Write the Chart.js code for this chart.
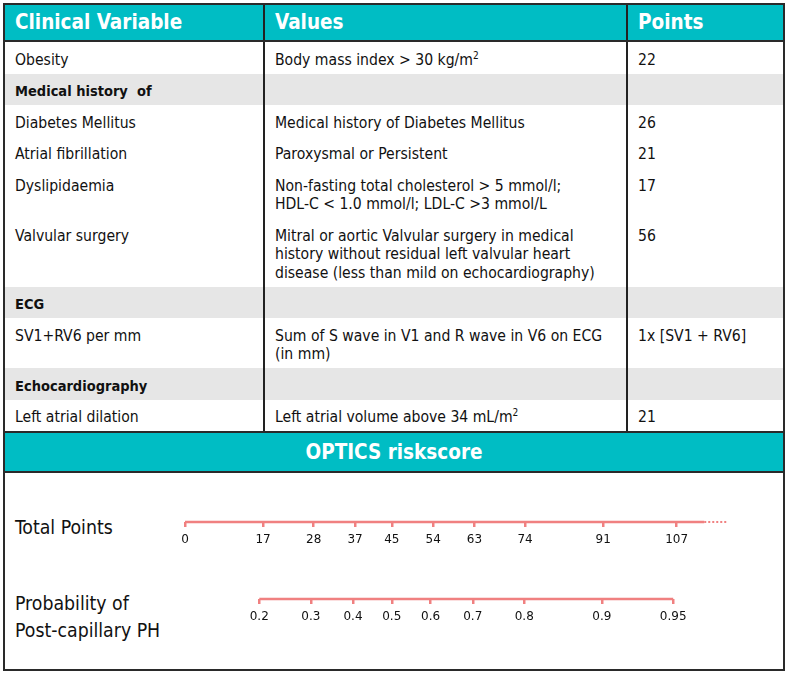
<!DOCTYPE html>
<html>
<head>
<meta charset="utf-8">
<script src="https://cdn.jsdelivr.net/npm/chart.js@4.4.1/dist/chart.umd.min.js"></script>
<style>
  html, body { margin: 0; padding: 0; background: #fff; }
  body { width: 787px; height: 674px; position: relative; overflow: hidden;
         font-family: "DejaVu Sans Condensed", "Open Sans", sans-serif; color: #111; }
  .abs { position: absolute; }
  .teal { background: #00BDC4; }
  .hdr { position: absolute; top: 4px; height: 37px; line-height: 37px; color: #fff;
         font-weight: bold; font-size: 20.5px; }
  #rows { position: absolute; left: 4px; top: 42px; width: 780px; }
  .row { display: flex; width: 780px; font-size: 15.6px; line-height: 18.5px; }
  .row.sec { background: #E6E6E6; }
  .row.sec .c1 { font-weight: bold; font-size: 14.5px; }
  .cell { box-sizing: border-box; padding: 8.5px 0 4.5px 11px; white-space: pre; }
  .c1 { width: 260px; } .c2 { width: 363px; } .c3 { width: 157px; }
  sup { font-size: 10px; line-height: 0; vertical-align: 6px; }
  .vline { position: absolute; width: 2px; background: #222; }
  .hline { position: absolute; height: 2px; background: #2a2a2a; left: 3px; width: 782px; }
  .side { position: absolute; left: 15px; font-size: 19.3px; line-height: 27px; color: #111; }
  #nomo { position: absolute; left: 0; top: 473px; }
</style>
</head>
<body>
<!-- teal header and teal title bar -->
<div class="abs teal" style="left:4px;top:4px;width:780px;height:37px;"></div>
<div class="abs teal" style="left:4px;top:433px;width:780px;height:39px;"></div>

<div id="rows"></div>

<div class="hdr" id="h1" style="left:15px;"></div>
<div class="hdr" id="h2" style="left:275px;"></div>
<div class="hdr" id="h3" style="left:638px;"></div>
<div class="hdr" id="title" style="left:4px;width:780px;top:433px;height:39px;line-height:39px;text-align:center;"></div>

<!-- rules -->
<div class="vline" style="left:263px;top:4px;height:429px;"></div>
<div class="vline" style="left:626px;top:4px;height:429px;"></div>
<div class="hline" style="top:40px;"></div>
<div class="hline" style="top:431px;"></div>
<div class="hline" style="top:471px;"></div>
<div class="abs" style="left:3px;top:3px;width:778px;height:664px;border:2px solid #2a2a2a;"></div>

<div class="side" id="lblPts" style="top:513.5px;"></div>
<div class="side" id="lblProb" style="top:589.5px;"></div>

<canvas id="nomo" width="787" height="195"></canvas>

<script>
// ---------------- table data ----------------
const headers = ["Clinical Variable", "Values", "Points"];
const clinicalVariables = ["Obesity", "Medical history  of", "Diabetes Mellitus", "Atrial fibrillation",
  "Dyslipidaemia", "Valvular surgery", "ECG", "SV1+RV6 per mm", "Echocardiography", "Left atrial dilation"];
const sectionRows = [false, true, false, false, false, false, true, false, true, false];
const variableValues = [
  ["Body mass index > 30 kg/m^2"],
  [""],
  ["Medical history of Diabetes Mellitus"],
  ["Paroxysmal or Persistent"],
  ["Non-fasting total cholesterol > 5 mmol/l;", "HDL-C < 1.0 mmol/l; LDL-C >3 mmol/L"],
  ["Mitral or aortic Valvular surgery in medical", "history without residual left valvular heart", "disease (less than mild on echocardiography)"],
  [""],
  ["Sum of S wave in V1 and R wave in V6 on ECG", "(in mm)"],
  [""],
  ["Left atrial volume above 34 mL/m^2"]
];
const variablePoints = ["22", "", "26", "21", "17", "56", "", "1x [SV1 + RV6]", "", "21"];
const scoreTitle = "OPTICS riskscore";

// ---------------- nomogram data ----------------
const axisNames = ["Total Points", "Probability of\nPost-capillary PH"];
const totalPointTicks = [0, 17, 28, 37, 45, 54, 63, 74, 91, 107];
const probabilityTicks = [0.2, 0.3, 0.4, 0.5, 0.6, 0.7, 0.8, 0.9, 0.95];
const totalPointsSolid = [0, 113];
const totalPointsDotted = [113, 118];
const pointsAtHalfProbability = 45;   // 45 points <-> probability 0.5
const pointsPerLogitUnit = 20.8;      // read from 17<->0.2, 74<->0.8, 107<->0.95

// ---------------- build table ----------------
function esc(s) { return s.replace(/&/g, "&amp;").replace(/</g, "&lt;").replace(/>/g, "&gt;"); }
function fmt(s) { return esc(s).replace(/\^2/g, "<sup>2</sup>"); }
document.getElementById("h1").textContent = headers[0];
document.getElementById("h2").textContent = headers[1];
document.getElementById("h3").textContent = headers[2];
document.getElementById("title").textContent = scoreTitle;
const rowsEl = document.getElementById("rows");
clinicalVariables.forEach((v, i) => {
  const r = document.createElement("div");
  r.className = "row" + (sectionRows[i] ? " sec" : "");
  r.innerHTML =
    '<div class="cell c1">' + fmt(v) + '</div>' +
    '<div class="cell c2">' + variableValues[i].map(fmt).join("<br>") + '</div>' +
    '<div class="cell c3">' + fmt(variablePoints[i] || "\u00a0") + '</div>';
  rowsEl.appendChild(r);
});
document.getElementById("lblPts").textContent = axisNames[0];
document.getElementById("lblProb").innerHTML = axisNames[1].split("\n").map(esc).join("<br>");

// ---------------- nomogram chart ----------------
const salmon = "#F08080";
const logit = p => Math.log(p / (1 - p));
const pointsToLogit = v => (v - pointsAtHalfProbability) / pointsPerLogitUnit;
const X_MIN = -4.099, X_MAX = 4.135;
const tickFont = { family: "DejaVu Sans", size: 12 };

function nomoAxis(rowValue, tickValues, toX, labels) {
  return {
    type: "linear",
    axis: "x",
    position: { y: rowValue },
    min: X_MIN, max: X_MAX,
    afterBuildTicks: s => { s.ticks = tickValues.map(v => ({ value: toX(v) })); },
    afterFit: s => { s.height = 0; },
    ticks: { autoSkip: false, maxRotation: 0, minRotation: 0, padding: 5.5, color: "#111",
             font: tickFont, callback: (val, i) => labels[i] },
    grid: { drawOnChartArea: false, drawTicks: true, tickLength: 5, tickWidth: 2.5,
            tickColor: salmon, color: salmon, lineWidth: 2.5 },
    border: { display: false }
  };
}

new Chart(document.getElementById("nomo"), {
  type: "line",
  data: {
    datasets: [
      { data: totalPointsSolid.map(v => ({ x: pointsToLogit(v), y: 1 })), xAxisID: "xPts",
        borderColor: salmon, borderWidth: 2.5, pointRadius: 0, tension: 0 },
      { data: totalPointsDotted.map(v => ({ x: pointsToLogit(v), y: 1 })), xAxisID: "xPts",
        borderColor: salmon, borderWidth: 2, borderDash: [2, 2], pointRadius: 0, tension: 0 },
      { data: [probabilityTicks[0], probabilityTicks[probabilityTicks.length - 1]].map(p => ({ x: logit(p), y: 0 })),
        xAxisID: "xProb", borderColor: salmon, borderWidth: 2.5, pointRadius: 0, tension: 0 }
    ]
  },
  options: {
    responsive: false, animation: false, events: [],
    layout: { padding: 0 },
    plugins: { legend: { display: false }, tooltip: { enabled: false } },
    scales: {
      y: { type: "linear", display: false, min: -0.896, max: 1.636 },
      xPts: nomoAxis(1, totalPointTicks, pointsToLogit, totalPointTicks.map(String)),
      xProb: nomoAxis(0, probabilityTicks, logit, probabilityTicks.map(String))
    }
  }
});
</script>
</body>
</html>
